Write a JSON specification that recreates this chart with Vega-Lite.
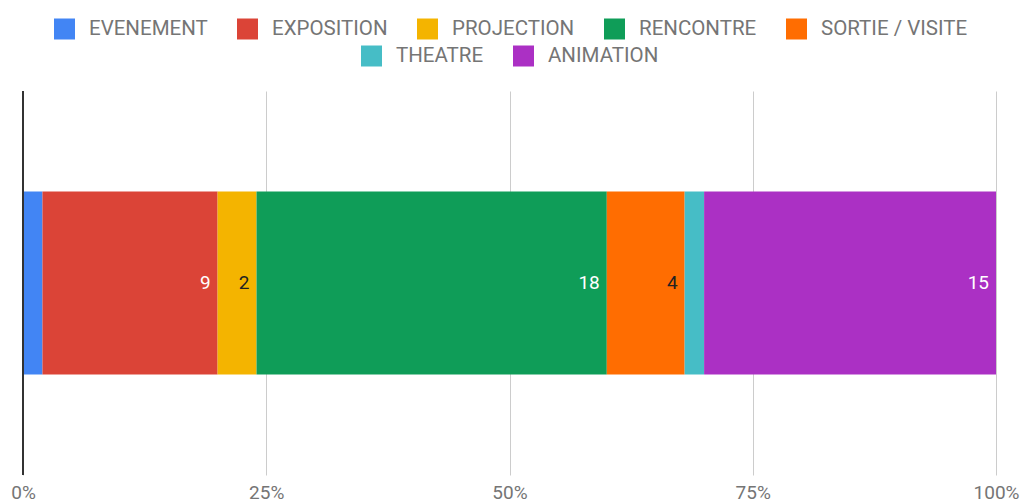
{
  "$schema": "https://vega.github.io/schema/vega-lite/v6.json",
  "width": 1023,
  "height": 503,
  "autosize": {"type": "fit", "contains": "padding"},
  "padding": {"left": 10, "right": 4, "top": 90, "bottom": 1},
  "background": "white",
  "config": {
    "view": {"stroke": null},
    "font": "Roboto",
    "legend": {
      "labelFont": "Roboto",
      "labelFontSize": 20.5,
      "labelColor": "#757575",
      "symbolType": "square",
      "symbolSize": 441,
      "symbolStrokeWidth": 0,
      "symbolOpacity": 1,
      "labelOffset": 14,
      "columnPadding": 29,
      "rowPadding": 0,
      "padding": 0,
      "labelLimit": 400
    }
  },
  "data": {
    "values": [
      {"categorie": "EVENEMENT", "nombre": 1, "ordre": 1},
      {"categorie": "EXPOSITION", "nombre": 9, "ordre": 2},
      {"categorie": "PROJECTION", "nombre": 2, "ordre": 3},
      {"categorie": "RENCONTRE", "nombre": 18, "ordre": 4},
      {"categorie": "SORTIE / VISITE", "nombre": 4, "ordre": 5},
      {"categorie": "THEATRE", "nombre": 1, "ordre": 6},
      {"categorie": "ANIMATION", "nombre": 15, "ordre": 7}
    ]
  },
  "transform": [
    {"stack": "nombre", "groupby": [], "sort": [{"field": "ordre", "order": "ascending"}], "offset": "normalize", "as": ["debut", "fin"]}
  ],
  "layer": [
    {
      "transform": [{"filter": {"field": "categorie", "oneOf": ["EVENEMENT", "EXPOSITION", "PROJECTION", "RENCONTRE", "SORTIE / VISITE"]}}],
      "mark": {"type": "bar", "cornerRadius": 0},
      "encoding": {
        "x": {
          "field": "debut",
          "type": "quantitative",
          "scale": {"domain": [0, 1], "nice": false, "zero": true},
          "axis": {
            "title": null,
            "values": [0, 0.25, 0.5, 0.75, 1],
            "format": ".0%",
            "grid": true,
            "gridColor": "#cccccc",
            "gridWidth": 1,
            "domain": false,
            "ticks": false,
            "tickSize": 0,
            "labelPadding": 8,
            "labelFont": "Roboto",
            "labelFontSize": 19,
            "labelColor": "#757575",
            "labelFlush": false
          }
        },
        "x2": {"field": "fin"},
        "y": {"datum": "A", "type": "nominal", "axis": null, "scale": {"paddingInner": 0, "paddingOuter": 0.55}},
        "color": {
          "field": "categorie",
          "type": "nominal",
          "scale": {
            "domain": ["EVENEMENT", "EXPOSITION", "PROJECTION", "RENCONTRE", "SORTIE / VISITE"],
            "range": ["#4285f4", "#db4437", "#f4b400", "#0f9d58", "#ff6d01"]
          },
          "legend": {"title": null, "orient": "none", "direction": "horizontal", "columns": 5, "legendX": 31, "legendY": -72.5}
        }
      }
    },
    {
      "transform": [{"filter": {"field": "categorie", "oneOf": ["THEATRE", "ANIMATION"]}}],
      "mark": {"type": "bar"},
      "encoding": {
        "x": {"field": "debut", "type": "quantitative"},
        "x2": {"field": "fin"},
        "y": {"datum": "A", "type": "nominal", "axis": null},
        "color": {
          "field": "categorie",
          "type": "nominal",
          "scale": {
            "domain": ["THEATRE", "ANIMATION"],
            "range": ["#46bdc6", "#ab30c4"]
          },
          "legend": {"title": null, "orient": "none", "direction": "horizontal", "columns": 2, "legendX": 338, "legendY": -45.5}
        }
      }
    },
    {
      "mark": {"type": "rule", "color": "#333333", "strokeWidth": 1.5},
      "encoding": {"x": {"datum": 0, "type": "quantitative"}}
    },
    {
      "transform": [{"filter": "datum.nombre > 1"}],
      "mark": {"type": "text", "align": "right", "baseline": "middle", "dx": -7, "font": "Roboto", "fontSize": 19},
      "encoding": {
        "x": {"field": "fin", "type": "quantitative"},
        "y": {"datum": "A", "type": "nominal", "axis": null},
        "text": {"field": "nombre", "type": "quantitative"},
        "color": {
          "condition": {"test": "datum.categorie === 'PROJECTION' || datum.categorie === 'SORTIE / VISITE'", "value": "#222222"},
          "value": "#ffffff"
        }
      }
    }
  ],
  "resolve": {"scale": {"color": "independent"}, "legend": {"color": "independent"}}
}
